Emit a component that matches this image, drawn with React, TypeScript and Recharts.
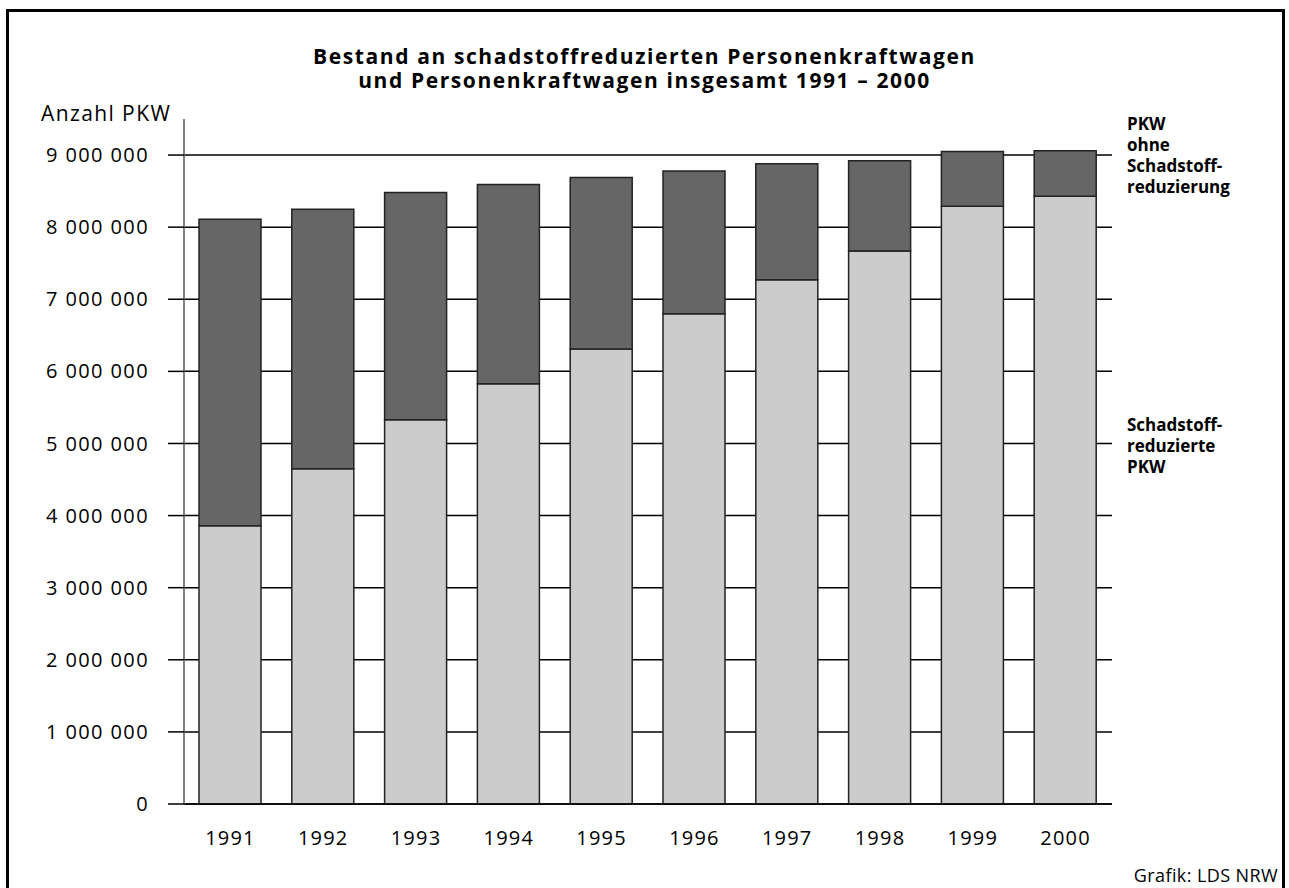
import React from 'react';
import { BarChart, Bar, XAxis, YAxis, CartesianGrid } from 'recharts';

const years = ['1991', '1992', '1993', '1994', '1995', '1996', '1997', '1998', '1999', '2000'];
const reducedCars = [3860000, 4650000, 5330000, 5830000, 6310000, 6800000, 7270000, 7670000, 8290000, 8430000];
const carsWithoutReduction = [4250000, 3600000, 3150000, 2760000, 2380000, 1980000, 1610000, 1250000, 760000, 630000];
const yTicks = [0, 1000000, 2000000, 3000000, 4000000, 5000000, 6000000, 7000000, 8000000, 9000000];
const titleLines = ['Bestand an schadstoffreduzierten Personenkraftwagen', 'und Personenkraftwagen insgesamt 1991 – 2000'];
const yAxisLabel = 'Anzahl PKW';
const legendTop = ['PKW', 'ohne', 'Schadstoff-', 'reduzierung'];
const legendBottom = ['Schadstoff-', 'reduzierte', 'PKW'];
const sourceNote = 'Grafik: LDS NRW';

const data = years.map((year, i) => ({
  year,
  reduced: reducedCars[i],
  without: carsWithoutReduction[i],
}));

const FONT = '"Open Sans", "DejaVu Sans", sans-serif';

const formatThousands = (v: number) => String(v).replace(/\B(?=(\d{3})+(?!\d))/g, '\u00a0');

export default function App() {
  return (
    <div
      style={{
        position: 'absolute',
        left: 0,
        top: 0,
        width: 1289,
        height: 888,
        overflow: 'hidden',
        background: '#fff',
        fontFamily: FONT,
        color: '#000',
      }}
    >
      <div
        style={{
          position: 'absolute',
          left: 6,
          top: 9,
          width: 1273,
          height: 950,
          border: '3px solid #000',
        }}
      />
      <div
        style={{
          position: 'absolute',
          left: 0,
          top: 44,
          width: 1289,
          textAlign: 'center',
          fontSize: 21,
          fontWeight: 700,
          lineHeight: '24px',
          letterSpacing: 1.6,
        }}
      >
        {titleLines.map((t) => (
          <div key={t}>{t}</div>
        ))}
      </div>
      <div
        style={{
          position: 'absolute',
          left: 41,
          top: 101,
          fontSize: 21,
          lineHeight: '25px',
          letterSpacing: 1.4,
        }}
      >
        {yAxisLabel}
      </div>
      <div
        style={{
          position: 'absolute',
          left: 1127,
          top: 113,
          fontSize: 17,
          fontWeight: 700,
          lineHeight: '21px',
        }}
      >
        {legendTop.map((t) => (
          <div key={t}>{t}</div>
        ))}
      </div>
      <div
        style={{
          position: 'absolute',
          left: 1127,
          top: 414,
          fontSize: 17,
          fontWeight: 700,
          lineHeight: '21px',
        }}
      >
        {legendBottom.map((t) => (
          <div key={t}>{t}</div>
        ))}
      </div>
      <div
        style={{
          position: 'absolute',
          right: 11,
          top: 864,
          fontSize: 18,
          lineHeight: '22px',
          letterSpacing: 0.4,
        }}
      >
        {sourceNote}
      </div>
      <div style={{ position: 'absolute', left: 0, top: 0 }}>
        <BarChart
          width={1289}
          height={888}
          data={data}
          barSize={62}
          margin={{ top: 119, right: 177, bottom: 54, left: 0 }}
        >
          <CartesianGrid
            vertical={false}
            horizontalValues={yTicks}
            stroke="#000"
            strokeWidth={1.5}
          />
          <XAxis
            dataKey="year"
            height={30}
            tickLine={false}
            axisLine={{ stroke: '#000', strokeWidth: 1.5 }}
            tickMargin={21}
            tick={{ fontSize: 20, fill: '#000', fontFamily: FONT, letterSpacing: 1.2 }}
          />
          <YAxis
            width={184}
            domain={[0, 9500000]}
            ticks={yTicks}
            interval={0}
            tickSize={16}
            tickMargin={19}
            tickFormatter={formatThousands}
            axisLine={{ stroke: '#555', strokeWidth: 1.5 }}
            tickLine={{ stroke: '#000', strokeWidth: 1.5 }}
            tick={{ fontSize: 20, fill: '#000', fontFamily: FONT, letterSpacing: 1.4 }}
          />
          <Bar
            dataKey="reduced"
            stackId="a"
            fill="#cccccc"
            stroke="#222"
            strokeWidth={1.5}
            isAnimationActive={false}
          />
          <Bar
            dataKey="without"
            stackId="a"
            fill="#666666"
            stroke="#222"
            strokeWidth={1.5}
            isAnimationActive={false}
          />
        </BarChart>
      </div>
    </div>
  );
}
